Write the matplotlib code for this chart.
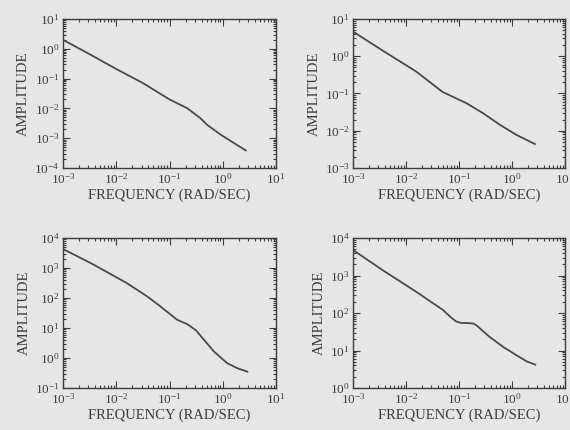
import numpy as np
import matplotlib
matplotlib.use("Agg")
import matplotlib.pyplot as plt
from matplotlib.ticker import LogLocator, NullFormatter

plt.rcParams['font.family'] = ['Liberation Serif', 'DejaVu Serif']
plt.rcParams['mathtext.fontset'] = 'custom'
plt.rcParams['mathtext.rm'] = 'Liberation Serif'
plt.rcParams['mathtext.it'] = 'Liberation Serif:italic'
plt.rcParams['mathtext.bf'] = 'Liberation Serif:bold'

# frequency (rad/sec) and amplitude
freq_a = [0.001, 0.00316, 0.01, 0.0316, 0.1, 0.214, 0.38, 0.51, 0.91, 1.62, 2.7]
amp_a = [2.0, 0.66, 0.21, 0.071, 0.02, 0.0102, 0.0047, 0.0028, 0.00132, 0.00069, 0.00039]

freq_b = [0.001, 0.004, 0.0155, 0.049, 0.138, 0.28, 0.59, 1.2, 2.7]
amp_b = [4.6, 1.3, 0.39, 0.11, 0.055, 0.03, 0.0145, 0.0078, 0.0044]

freq_c = [0.001, 0.0036, 0.0155, 0.037, 0.066, 0.138, 0.178, 0.214, 0.25, 0.316,
          0.44, 0.68, 1.2, 1.86, 2.9]
amp_c = [4300, 1350, 320, 117, 54, 19, 15.5, 13.5, 11.2, 8.3,
         4.1, 1.66, 0.68, 0.46, 0.35]

freq_d = [0.001, 0.0036, 0.0155, 0.05, 0.0708, 0.089, 0.112, 0.141, 0.186, 0.219,
          0.282, 0.38, 0.69, 1.23, 1.9, 2.75]
amp_d = [4800, 1400, 370, 120, 76, 59, 54, 54, 52.5, 45.7,
         33, 23, 12.3, 7.4, 5.1, 4.2]

ylims = [(1e-4, 1e1), (1e-3, 1e1), (1e-1, 1e4), (1e0, 1e4)]
# axes boxes in pixels: left, right, top, bottom
boxes = [(63, 276, 19, 168), (353, 565, 19, 168), (63, 276, 238, 388), (353, 565, 238, 388)]
series = [(freq_a, amp_a), (freq_b, amp_b), (freq_c, amp_c), (freq_d, amp_d)]

W, H = 570, 430
bg = '#e6e6e4'
ink = '#3c3c3c'

fig = plt.figure(figsize=(W / 100, H / 100), dpi=100, facecolor=bg)

for (f, a), yl, (l, r, t, b) in zip(series, ylims, boxes):
    ax = fig.add_axes([l / W, 1 - b / H, (r - l) / W, (b - t) / H])
    ax.set_facecolor(bg)
    ax.plot(f, a, color='#4a4a4a', lw=1.3)
    ax.set_xscale('log')
    ax.set_yscale('log')
    ax.set_xlim(1e-3, 1e1)
    ax.set_ylim(*yl)
    ax.xaxis.set_major_locator(LogLocator(base=10, numticks=10))
    ax.yaxis.set_major_locator(LogLocator(base=10, numticks=10))
    ax.xaxis.set_minor_locator(LogLocator(base=10, subs=np.arange(2, 10), numticks=20))
    ax.yaxis.set_minor_locator(LogLocator(base=10, subs=np.arange(2, 10), numticks=20))
    ax.xaxis.set_minor_formatter(NullFormatter())
    ax.yaxis.set_minor_formatter(NullFormatter())
    ax.tick_params(which='both', direction='in', top=True, right=True,
                   colors=ink, labelcolor=ink, labelsize=9.5, width=0.8)
    ax.tick_params(which='major', length=5)
    ax.tick_params(which='minor', length=2.5)
    ax.tick_params(axis='x', which='major', pad=3)
    ax.tick_params(axis='y', which='major', pad=2.5)
    for s in ax.spines.values():
        s.set_color(ink)
        s.set_linewidth(1.0)
    ax.set_xlabel('FREQUENCY (RAD/SEC)', fontsize=10.5, color=ink, labelpad=1)
    ax.set_ylabel('AMPLITUDE', fontsize=10.5, color=ink, labelpad=3)

fig.savefig('out.png', dpi=100, facecolor=bg)
